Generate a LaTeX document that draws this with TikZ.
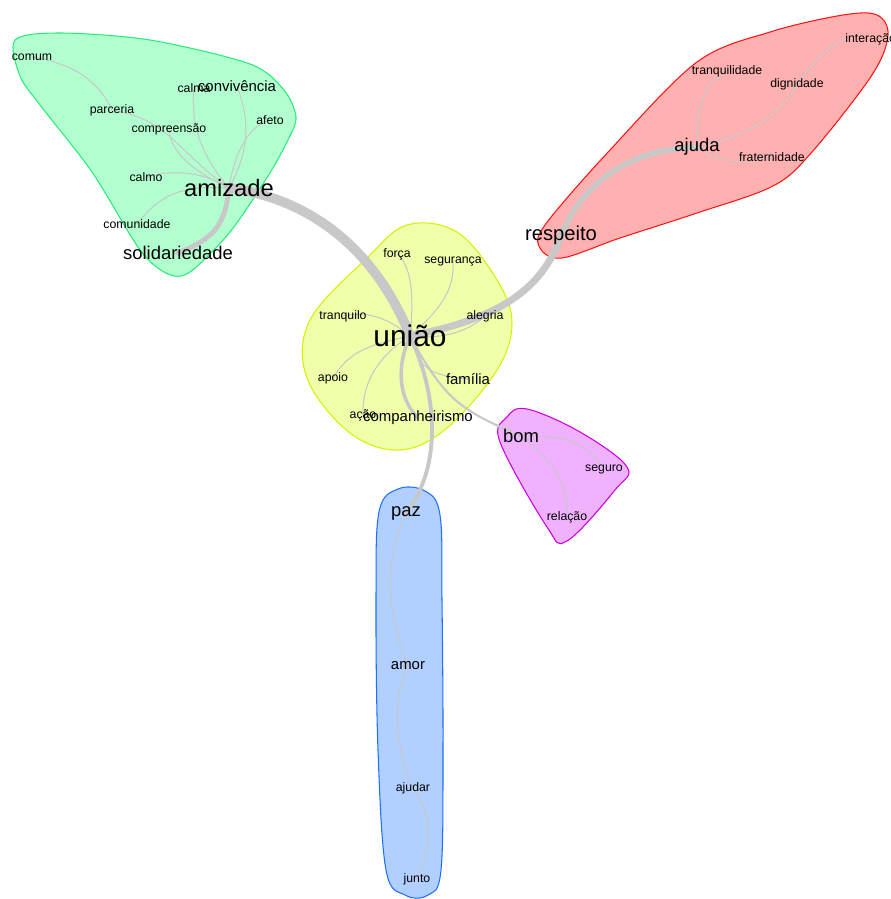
\documentclass[tikz,border=0pt]{standalone}
\usepackage{fontspec}
\setmainfont{Liberation Sans}
\usetikzlibrary{backgrounds}

\definecolor{grfill}{RGB}{178,255,208}
\definecolor{grline}{RGB}{40,235,120}
\definecolor{rdfill}{RGB}{255,176,176}
\definecolor{rdline}{RGB}{255,20,20}
\definecolor{ylfill}{RGB}{240,255,170}
\definecolor{ylline}{RGB}{215,240,0}
\definecolor{pkfill}{RGB}{240,178,255}
\definecolor{pkline}{RGB}{200,0,225}
\definecolor{blfill}{RGB}{178,208,255}
\definecolor{blline}{RGB}{30,110,255}
\definecolor{lnkgray}{RGB}{200,200,200}

\tikzset{
  wds/.style={inner sep=0pt, font=\fontsize{7}{8}\selectfont},
  wdm/.style={inner sep=0pt, font=\fontsize{8.5}{9}\selectfont},
  wdl/.style={inner sep=0pt, font=\fontsize{10.5}{12}\selectfont},
  wdxl/.style={inner sep=0pt, font=\fontsize{13.5}{15}\selectfont},
  wdxxl/.style={inner sep=0pt, font=\fontsize{17}{19}\selectfont},
  lnk/.style={draw=lnkgray, line width=#1, line cap=round},
  lnk/.default=0.6pt,
  hull/.style 2 args={fill=#1, draw=#2, line width=0.6pt}
}

\begin{document}
\begin{tikzpicture}[x=0.02cm, y=-0.02cm]
  \useasboundingbox (0,0) rectangle (890,899);

  % amizade
  \node[wds] (comum) at (32, 57) {comum};
  \node[wds] (calma) at (194, 88) {calma};
  \node[wdm] (convivencia) at (237, 86) {convivência};
  \node[wds] (parceria) at (112, 110) {parceria};
  \node[wds] (compreensao) at (169, 129) {compreensão};
  \node[wds] (afeto) at (270, 120) {afeto};
  \node[wds] (calmo) at (146, 177) {calmo};
  \node[wdxl] (amizade) at (229, 188) {amizade};
  \node[wds] (comunidade) at (137, 224) {comunidade};
  \node[wdl] (solidariedade) at (178, 253) {solidariedade};

  % respeito
  \node[wds, anchor=west] (interacao) at (845, 39) {interação};
  \node[wds] (tranquilidade) at (727, 71) {tranquilidade};
  \node[wds] (dignidade) at (797, 84) {dignidade};
  \node[wdl] (ajuda) at (697, 147) {ajuda};
  \node[wds] (fraternidade) at (772, 157) {fraternidade};
  \node[wdl, font=\fontsize{11.5}{13}\selectfont] (respeito) at (561, 235) {respeito};

  % uniao
  \node[wds] (forca) at (397, 254) {força};
  \node[wds] (seguranca) at (453, 261) {segurança};
  \node[wds] (tranquilo) at (343, 316) {tranquilo};
  \node[wds] (alegria) at (485, 316) {alegria};
  \node[wdxxl] (uniao) at (410, 336) {união};
  \node[wds] (apoio) at (333, 378) {apoio};
  \node[wdm] (familia) at (468, 379) {família};
  \node[wds] (acao) at (363, 415) {ação};
  \node[wdm] (companheirismo) at (418, 418) {companheirismo};

  % bom
  \node[wdl] (bom) at (521, 436) {bom};
  \node[wds] (seguro) at (604, 469) {seguro};
  \node[wds] (relacao) at (567, 517) {relação};

  % paz
  \node[wdl] (paz) at (406, 513) {paz};
  \node[wdm] (amor) at (408, 666) {amor};
  \node[wds] (ajudar) at (413, 788) {ajudar};
  \node[wds] (junto) at (417, 879) {junto};

  \begin{scope}[on background layer]
    % halos
    \draw[hull={grfill}{grline}] plot[smooth cycle, tension=0.5] coordinates {
      (15,40) (60,33) (150,40) (250,64) (284,90) (296,117) (288,140)
      (268,176) (230,232) (190,272) (168,274) (140,250) (92,172) (40,105) (20,76)};
    \draw[hull={rdfill}{rdline}] plot[smooth cycle, tension=0.55] coordinates {
      (843,15) (877,15) (888,35) (872,75) (812,152) (773,186) (697,213)
      (620,238) (562,258) (540,248) (545,225) (610,150) (697,62) (770,32)};
    \draw[hull={ylfill}{ylline}] plot[smooth cycle, tension=0.6] coordinates {
      (407,225) (457,232) (497,280) (512,323) (497,370) (447,428)
      (400,450) (350,433) (307,378) (310,320) (367,258)};
    \draw[hull={pkfill}{pkline}] plot[smooth cycle, tension=0.6] coordinates {
      (507,417) (527,409) (580,432) (627,467) (615,490) (567,541)
      (547,527) (500,442)};
    \draw[hull={blfill}{blline}] plot[smooth cycle, tension=0.6] coordinates {
      (398,489) (425,491) (440,515) (442,600) (443,750) (441,870) (428,895)
      (405,895) (386,870) (378,750) (376,600) (379,512)};

    % links
    \draw[lnk=5.5pt] (uniao.center) .. controls (380,260) and (320,200) .. (amizade.center);
    \draw[lnk=4pt] (uniao.center) .. controls (480,322) and (540,300) .. (respeito.center);
    \draw[lnk=3.2pt] (respeito.center) .. controls (580,190) and (620,150) .. (ajuda.center);
    \draw[lnk=2.8pt] (amizade.center) .. controls (225,225) and (215,238) .. (solidariedade.center);
    \draw[lnk=2.2pt] (uniao.center) .. controls (440,400) and (440,470) .. (paz.center);
    \draw[lnk=2pt] (uniao.center) .. controls (395,370) and (400,400) .. (companheirismo.center);
    \draw[lnk=1.2pt] (uniao.center) .. controls (445,400) and (460,410) .. (bom.center);

    \draw[lnk] (uniao.center) .. controls (415,290) and (410,265) .. (forca.center);
    \draw[lnk] (uniao.center) .. controls (440,310) and (455,290) .. (seguranca.center);
    \draw[lnk] (uniao.center) .. controls (390,320) and (370,310) .. (tranquilo.center);
    \draw[lnk] (uniao.center) .. controls (445,340) and (470,330) .. (alegria.center);
    \draw[lnk] (uniao.center) .. controls (370,345) and (350,350) .. (apoio.center);
    \draw[lnk] (uniao.center) .. controls (380,355) and (362,380) .. (acao.center);
    \draw[lnk] (uniao.center) .. controls (420,370) and (430,375) .. (familia.center);

    \draw[lnk] (comum.center) .. controls (80,65) and (100,85) .. (parceria.center);
    \draw[lnk] (parceria.center) .. controls (170,120) and (175,150) .. (amizade.center);
    \draw[lnk] (compreensao.center) .. controls (170,150) and (190,170) .. (amizade.center);
    \draw[lnk] (calma.center) .. controls (190,130) and (205,160) .. (amizade.center);
    \draw[lnk] (convivencia.center) .. controls (250,120) and (250,150) .. (amizade.center);
    \draw[lnk] (afeto.center) .. controls (250,125) and (235,150) .. (amizade.center);
    \draw[lnk] (calmo.center) .. controls (170,170) and (200,170) .. (amizade.center);
    \draw[lnk] (comunidade.center) .. controls (160,195) and (180,185) .. (amizade.center);

    \draw[lnk] (ajuda.center) .. controls (697,110) and (700,85) .. (tranquilidade.center);
    \draw[lnk] (ajuda.center) .. controls (750,135) and (780,115) .. (dignidade.center);
    \draw[lnk] (dignidade.center) .. controls (815,60) and (830,45) .. (interacao.west);
    \draw[lnk] (ajuda.center) .. controls (710,158) and (725,165) .. (fraternidade.center);

    \draw[lnk] (bom.center) .. controls (565,436) and (585,440) .. (seguro.center);
    \draw[lnk] (bom.center) .. controls (555,465) and (568,480) .. (relacao.center);

    \draw[lnk] (paz.center) .. controls (385,560) and (385,610) .. (amor.center);
    \draw[lnk] (amor.center) .. controls (388,710) and (400,760) .. (ajudar.center);
    \draw[lnk] (ajudar.center) .. controls (435,820) and (430,850) .. (junto.center);
  \end{scope}
\end{tikzpicture}
\end{document}
